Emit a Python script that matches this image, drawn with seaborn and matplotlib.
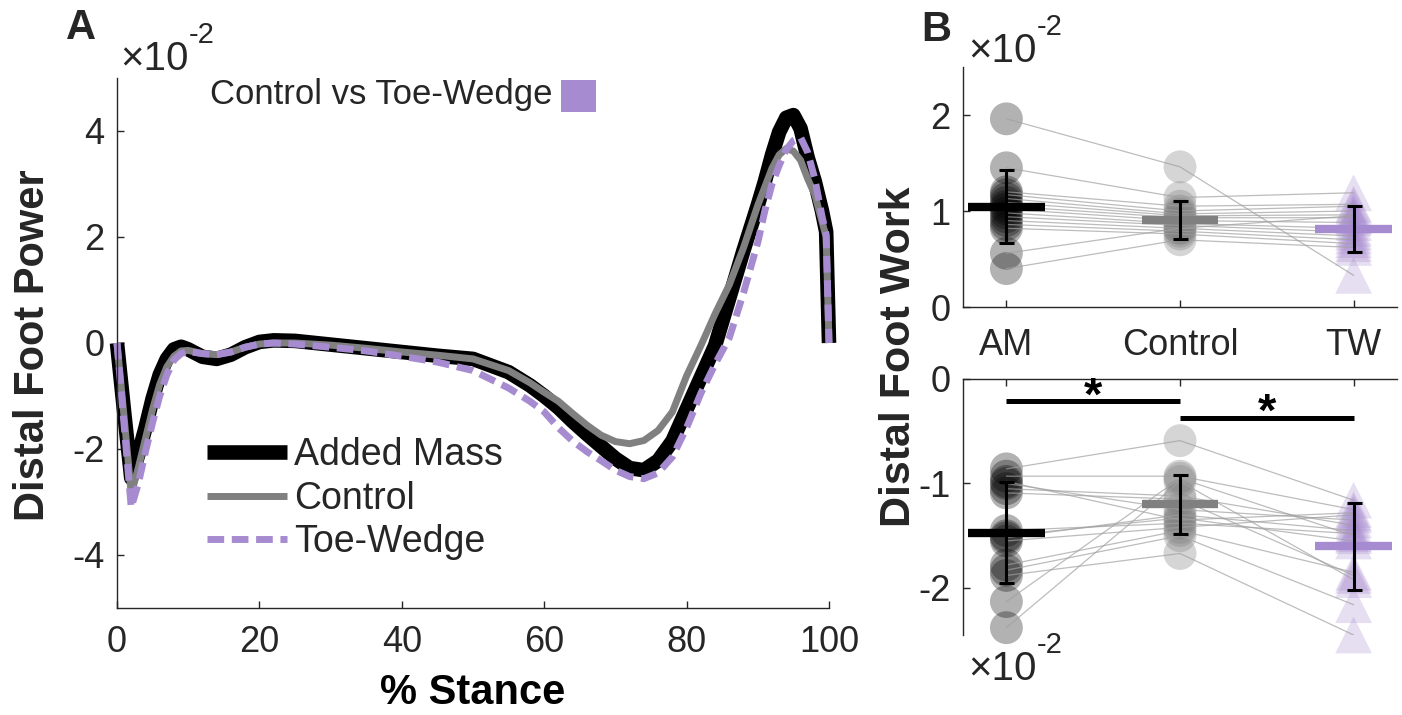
import numpy as np
import pandas as pd
import matplotlib
matplotlib.use("Agg")
import matplotlib.pyplot as plt
import seaborn as sns
from matplotlib.patches import Rectangle

# ---------------- Panel A: distal foot power (x10^-2) ----------------
stance = [0, 1, 2, 3, 4, 5, 6, 7, 8, 9, 10, 12, 14, 16, 18, 20, 22, 25, 30, 35, 40, 45,
          50, 55, 58, 60, 62, 64, 66, 68, 70, 72, 74, 76, 78, 80, 82, 84, 86, 88, 90,
          91, 92, 93, 94, 95, 96, 97, 98, 99, 99.6, 100]
added_mass = [0, -1.3, -2.55, -2.1, -1.6, -1.05, -0.6, -0.3, -0.12, -0.07, -0.12,
              -0.26, -0.3, -0.22, -0.08, 0.02, 0.05,
              0.04, -0.03, -0.1, -0.17, -0.24, -0.3, -0.55,
              -0.8, -1.0, -1.22, -1.48, -1.72, -1.95, -2.18, -2.36, -2.4, -2.22, -1.85,
              -1.25, -0.65, -0.05, 0.85, 1.75, 2.6,
              3.05, 3.55, 3.98, 4.25, 4.3, 4.05, 3.5, 3.05, 2.5, 2.1, 0]
control = [0, -1.4, -2.85, -2.35, -1.8, -1.25, -0.78, -0.45, -0.25, -0.15, -0.14,
           -0.2, -0.22, -0.17, -0.08, -0.02, 0.0,
           0.0, -0.04, -0.1, -0.17, -0.23, -0.3, -0.52,
           -0.75, -0.93, -1.1, -1.33, -1.55, -1.74, -1.86, -1.9, -1.84, -1.65, -1.3,
           -0.62, -0.05, 0.55, 1.1, 1.8, 2.6,
           2.95, 3.3, 3.55, 3.67, 3.62, 3.45, 3.1, 2.8, 2.3, 2.0, 0]
toe_wedge = [0, -1.55, -3.1, -2.65, -2.05, -1.5, -1.0, -0.6, -0.32, -0.2, -0.16,
             -0.2, -0.22, -0.17, -0.08, -0.02, 0.0,
             -0.02, -0.08, -0.15, -0.25, -0.36, -0.52, -0.85,
             -1.1, -1.3, -1.6, -1.85, -2.05, -2.22, -2.4, -2.52, -2.56, -2.45, -2.15,
             -1.6, -0.95, -0.4, 0.1, 0.95, 1.9,
             2.5, 3.0, 3.35, 3.65, 3.82, 3.88, 3.6, 3.1, 2.4, 2.05, 0]
series_labels = ["Added Mass", "Control", "Toe-Wedge"]
power_xticks = [0, 20, 40, 60, 80, 100]
power_yticks = [-4, -2, 0, 2, 4]

# ---------------- Panel B: distal foot work (x10^-2) ----------------
conditions = ["AM", "Control", "TW"]
cond_pos = [1, 2, 3]
pos_work_am = [1.96, 1.45, 1.20, 1.17, 1.13, 1.09, 1.05, 1.02, 0.98, 0.94, 0.90, 0.86, 0.82, 0.56, 0.40]
pos_work_control = [1.46, 1.14, 1.05, 1.00, 0.97, 0.95, 0.93, 0.90, 0.87, 0.85, 0.82, 0.79, 0.76, 0.82, 0.70]
pos_work_tw = [0.33, 1.19, 1.07, 1.05, 1.00, 0.96, 0.93, 0.88, 0.82, 0.78, 0.74, 0.70, 0.66, 0.95, 0.62]
neg_work_am = [-0.86, -0.93, -0.98, -1.05, -1.09, -1.45, -1.50, -1.55, -1.78, -1.83, -1.88, -2.13, -2.38, -1.00, -1.52]
neg_work_control = [-0.59, -0.93, -1.35, -1.12, -1.15, -1.38, -1.33, -1.42, -1.45, -1.50, -1.67, -0.95, -0.98, -1.25, -1.30]
neg_work_tw = [-1.16, -1.25, -1.28, -1.40, -1.88, -1.48, -1.55, -1.30, -1.85, -2.16, -2.45, -1.50, -1.92, -1.35, -1.45]
pos_means = [1.045, 0.905, 0.81]
pos_sd = [0.38, 0.20, 0.24]
neg_means = [-1.47, -1.20, -1.60]
neg_sd = [0.48, 0.285, 0.415]
sig_pairs = [(1, 2), (2, 3)]
sig_y = [-0.21, -0.37]

# ---------------- style ----------------
sns.set_theme(style="ticks")
plt.rcParams["font.family"] = ["Liberation Sans", "DejaVu Sans"]
plt.rcParams["axes.unicode_minus"] = False

BLACK = "#000000"
GRAY = "#808080"
PURPLE = "#A78BD0"
AXC = "#262626"
TICK_FS = 26

fig = plt.figure(figsize=(14.02, 7.15), dpi=100)
W, H = 1402.0, 715.0


def px_axes(x0, y0, x1, y1):
    return fig.add_axes([x0 / W, 1 - y1 / H, (x1 - x0) / W, (y1 - y0) / H])


def style_axis(ax):
    ax.tick_params(direction="in", length=5, width=1, colors=AXC, labelsize=TICK_FS,
                   labelcolor=AXC)
    for s in ax.spines.values():
        s.set_color(AXC)
        s.set_linewidth(1.0)


def exponent_label(x, y):
    t = fig.text(x / W, 1 - y / H, "×10", fontsize=29, color=AXC, ha="left",
                 va="baseline")
    ann = plt.annotate("-2", xy=(1.0, 0.76), xycoords=t, ha="left", va="bottom",
                       fontsize=21, color=AXC, annotation_clip=False)
    return t, ann


# ---------------- Panel A ----------------
axA = px_axes(117, 78, 829, 608)
dfA = pd.DataFrame({"stance": stance * 3,
                    "power": added_mass + control + toe_wedge,
                    "cond": sum([[lab] * len(stance) for lab in series_labels], [])})
styles = {"Added Mass": dict(color=BLACK, lw=10.5),
          "Control": dict(color=GRAY, lw=5),
          "Toe-Wedge": dict(color=PURPLE, lw=5, dashes=(2.4, 1.1))}
for lab in series_labels:
    st = styles[lab]
    sns.lineplot(data=dfA[dfA.cond == lab], x="stance", y="power", ax=axA,
                 color=st["color"], lw=st["lw"], label=lab, sort=False,
                 estimator=None)
    line = axA.get_lines()[-1]
    line.set_solid_capstyle("butt")
    line.set_solid_joinstyle("round")
    line.set_clip_on(False)
    if "dashes" in st:
        line.set_dashes(st["dashes"])
        line.set_dash_capstyle("butt")

axA.set_xlim(0, 100)
axA.set_ylim(-5, 5)
axA.set_xticks(power_xticks)
axA.set_yticks(power_yticks)
axA.spines["top"].set_visible(False)
axA.spines["right"].set_visible(False)
style_axis(axA)
axA.tick_params(axis="x", pad=12)
axA.tick_params(axis="y", pad=9)
axA.set_xlabel("% Stance", fontsize=30, fontweight="bold", color="black")
axA.xaxis.set_label_coords(0.5, -0.123)
axA.set_ylabel("")
fig.text(33 / W, 1 - 345 / H, "Distal Foot Power", rotation=90, ha="center",
         va="center", fontsize=30, fontweight="bold")
axA.legend(loc="upper left", bbox_to_anchor=(0.126, 0.322), frameon=False,
           fontsize=27, handlelength=2.13, handletextpad=0.2,
           labelspacing=0.2, borderpad=0, borderaxespad=0)
axA.text(0.131, 0.968, "Control vs Toe-Wedge", transform=axA.transAxes,
         fontsize=25, ha="left", va="center")
axA.add_patch(Rectangle((0.624, 0.936), 0.049, 0.06, transform=axA.transAxes,
                        facecolor=PURPLE, edgecolor="none", clip_on=False))
exponent_label(120, 70)
fig.text(81 / W, 1 - 28 / H, "A", fontsize=30, fontweight="bold", ha="center", va="center")


# ---------------- Panel B ----------------
def work_df(am, ctl, tw):
    n = len(am)
    return pd.DataFrame({
        "subject": list(range(n)) * 3,
        "pos": [cond_pos[0]] * n + [cond_pos[1]] * n + [cond_pos[2]] * n,
        "cond": [conditions[0]] * n + [conditions[1]] * n + [conditions[2]] * n,
        "work": am + ctl + tw,
    })


def draw_work(ax, df, means, sds):
    marker_map = {"AM": "o", "Control": "o", "TW": "^"}
    color_map = {"AM": BLACK, "Control": GRAY, "TW": PURPLE}
    alpha_map = {"AM": 0.3, "Control": 0.33, "TW": 0.28}
    size_map = {"AM": 560, "Control": 560, "TW": 700}
    for c in conditions:
        sub = df[df.cond == c]
        sns.scatterplot(data=sub, x="pos", y="work", ax=ax, marker=marker_map[c],
                        color=color_map[c], alpha=alpha_map[c], s=size_map[c],
                        edgecolor="none", linewidth=0, legend=False, zorder=2)
        ax.collections[-1].set_clip_on(False)
    sns.lineplot(data=df, x="pos", y="work", units="subject", estimator=None, ax=ax,
                 color="#a0a0a0", lw=0.9, alpha=0.7, legend=False, zorder=3, sort=False)
    cols = [BLACK, GRAY, PURPLE]
    for p, m, col in zip(cond_pos, means, cols):
        ax.hlines(m, p - 0.22, p + 0.22, colors=col, lw=6, zorder=4, capstyle="butt")
    ax.errorbar(cond_pos, means, yerr=sds, fmt="none", ecolor="black", elinewidth=2.2,
                capsize=5.4, capthick=2.2, zorder=5)
    ax.set_xlim(0.75, 3.25)
    ax.set_xlabel("")
    ax.set_ylabel("")


axB1 = px_axes(963, 67, 1397, 307)
draw_work(axB1, work_df(pos_work_am, pos_work_control, pos_work_tw), pos_means, pos_sd)
axB1.set_ylim(0, 2.5)
axB1.set_yticks([0, 1, 2])
axB1.set_xticks(cond_pos)
axB1.set_xticklabels(conditions)
axB1.spines["top"].set_visible(False)
axB1.spines["right"].set_visible(False)
style_axis(axB1)
axB1.tick_params(axis="x", pad=15)
axB1.tick_params(axis="y", pad=9)

axB2 = px_axes(963, 379, 1397, 635)
draw_work(axB2, work_df(neg_work_am, neg_work_control, neg_work_tw), neg_means, neg_sd)
axB2.set_ylim(-2.45, 0)
axB2.set_yticks([-2, -1, 0])
axB2.set_xticks(cond_pos)
axB2.xaxis.tick_top()
axB2.set_xticklabels([])
axB2.spines["bottom"].set_visible(False)
axB2.spines["right"].set_visible(False)
style_axis(axB2)
axB2.tick_params(axis="y", pad=9)
for (a, b), yv in zip(sig_pairs, sig_y):
    axB2.plot([a, b], [yv, yv], color="black", lw=3.6, solid_capstyle="butt", zorder=6)
    axB2.text((a + b) / 2, yv - 0.08, "*", fontsize=34, fontweight="bold",
              ha="center", va="baseline", zorder=6, color="black")

fig.text(899 / W, 1 - 357 / H, "Distal Foot Work", rotation=90, ha="center",
         va="center", fontsize=31, fontweight="bold")
exponent_label(968, 62)
exponent_label(968, 680)
fig.text(936 / W, 1 - 30 / H, "B", fontsize=30, fontweight="bold", ha="center", va="center")

fig.savefig("out.png", dpi=100)
